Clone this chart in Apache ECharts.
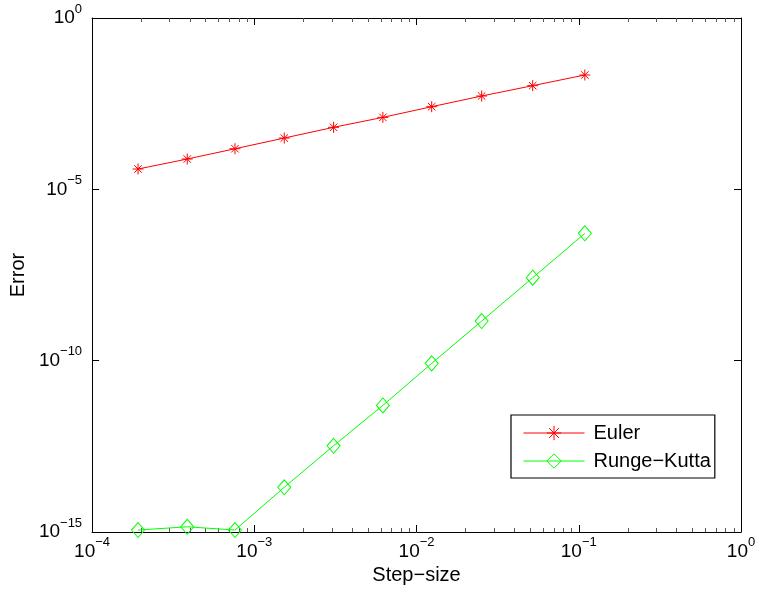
<!DOCTYPE html>
<html>
<head>
<meta charset="utf-8">
<script src="https://cdn.jsdelivr.net/npm/echarts@6/dist/echarts.min.js"></script>
<style>
html,body{margin:0;padding:0;background:#fff;}
#chart{width:760px;height:598px;}
</style>
</head>
<body>
<div id="chart"></div>
<script>
// ---- data ----
var stepSizes = [1.92e-4, 3.86e-4, 7.6e-4, 1.53e-3, 3.08e-3, 6.2e-3, 1.24e-2, 2.52e-2, 5.2e-2, 0.109];
var eulerError = [3.92e-5, 7.66e-5, 1.53e-4, 3.14e-4, 6.45e-4, 1.26e-3, 2.58e-3, 5.29e-3, 1.06e-2, 2.17e-2];
var rkError = [1.14e-15, 1.42e-15, 1.14e-15, 2.02e-14, 3.28e-13, 4.95e-12, 8.34e-11, 1.43e-9, 2.63e-8, 5.2e-7];
var seriesNames = ['Euler', 'Runge\u2212Kutta'];
var xMin = 1e-4, xMax = 1, yMin = 1e-15, yMax = 1;
var xMinorTicks = [2e-4,3e-4,4e-4,5e-4,6e-4,7e-4,8e-4,9e-4,
                   2e-3,3e-3,4e-3,5e-3,6e-3,7e-3,8e-3,9e-3,
                   2e-2,3e-2,4e-2,5e-2,6e-2,7e-2,8e-2,9e-2,
                   0.2,0.3,0.4,0.5,0.6,0.7,0.8,0.9];
var xName = 'Step\u2212size';
var yName = 'Error';

function pairs(xs, ys){ return xs.map(function(x,i){ return [x, ys[i]]; }); }

var FONT = 'Liberation Sans, Arial, Helvetica, sans-serif';
function expLabel(v){
  var e = Math.round(Math.log10(v));
  var s = e < 0 ? '\u2212' + Math.abs(e) : String(e);
  return '{b|10}{s|' + s + '}';
}
var richSup = {
  b: {fontSize: 19, fontFamily: FONT, color: '#000', lineHeight: 19, verticalAlign: 'bottom'},
  s: {fontSize: 13, fontFamily: FONT, color: '#000', lineHeight: 13, verticalAlign: 'bottom', padding: [0,0,12,0]}
};

var asterisk = 'path://M5 0 L5 10 M0 5 L10 5 M1.6 1.6 L8.4 8.4 M8.4 1.6 L1.6 8.4';

var chart = echarts.init(document.getElementById('chart'), null, {renderer: 'canvas'});
chart.setOption({
  backgroundColor: '#fff',
  animation: false,
  grid: {left: 90, right: 19, top: 18, bottom: 66, containLabel: false},
  legend: {
    left: 511, top: 415, orient: 'vertical',
    data: seriesNames,
    itemWidth: 61, itemHeight: 18, itemGap: 8,
    padding: [8, 4, 7, 12],
    backgroundColor: '#fff', borderColor: '#000', borderWidth: 1.2,
    lineStyle: {width: 1},
    itemStyle: {borderWidth: 1},
    textStyle: {fontSize: 20, fontFamily: FONT, color: '#000', lineHeight: 20, padding: [0,0,0,4]}
  },
  xAxis: [{
    type: 'log', logBase: 10, min: xMin, max: xMax, interval: 1,
    position: 'bottom',
    name: xName, nameLocation: 'middle', nameGap: 32,
    nameTextStyle: {fontSize: 20, fontFamily: FONT, color: '#000'},
    axisLine: {show: true, lineStyle: {color: '#000', width: 1}},
    axisTick: {show: true, inside: true, length: 7, lineStyle: {color: '#000'}},
    axisLabel: {show: true, formatter: expLabel, rich: richSup, margin: 10},
    splitLine: {show: false}
  }, {
    type: 'log', logBase: 10, min: xMin, max: xMax, interval: 1,
    position: 'top',
    axisLine: {show: true, lineStyle: {color: '#000', width: 1}},
    axisTick: {show: true, inside: true, length: 7, lineStyle: {color: '#000'}},
    axisLabel: {show: false},
    splitLine: {show: false}
  }],
  yAxis: [{
    type: 'log', logBase: 10, min: yMin, max: yMax, interval: 5,
    position: 'left',
    name: yName, nameLocation: 'middle', nameGap: 58,
    nameTextStyle: {fontSize: 20, fontFamily: FONT, color: '#000'},
    axisLine: {show: true, lineStyle: {color: '#000', width: 1}},
    axisTick: {show: true, inside: true, length: 7, lineStyle: {color: '#000'}},
    axisLabel: {show: true, formatter: expLabel, rich: richSup, margin: 10},
    splitLine: {show: false}
  }, {
    type: 'log', logBase: 10, min: yMin, max: yMax, interval: 5,
    position: 'right',
    axisLine: {show: true, lineStyle: {color: '#000', width: 1}},
    axisTick: {show: true, inside: true, length: 7, lineStyle: {color: '#000'}},
    axisLabel: {show: false},
    splitLine: {show: false}
  }],
  series: [{
    name: seriesNames[0], type: 'line', xAxisIndex: 0, yAxisIndex: 0,
    data: pairs(stepSizes, eulerError),
    symbol: asterisk, symbolSize: 11, symbolKeepAspect: true,
    clip: false,
    lineStyle: {color: '#ff0000', width: 1},
    itemStyle: {color: 'rgba(0,0,0,0)', borderColor: '#ff0000', borderWidth: 1},
    emphasis: {disabled: true}
  }, {
    name: seriesNames[1], type: 'line', xAxisIndex: 0, yAxisIndex: 0,
    data: pairs(stepSizes, rkError),
    symbol: 'diamond', symbolSize: [13, 15],
    clip: false,
    lineStyle: {color: '#00ff00', width: 1},
    itemStyle: {color: 'rgba(0,0,0,0)', borderColor: '#00ff00', borderWidth: 1},
    emphasis: {disabled: true}
  }, {
    name: 'minorTicks', type: 'custom', xAxisIndex: 0, yAxisIndex: 0,
    data: xMinorTicks.map(function(v){ return [v, 1]; }),
    silent: true, clip: false,
    renderItem: function(params, api){
      var cs = params.coordSys;
      var x = Math.round(api.coord([api.value(0), 1])[0]) + 0.5;
      var yb = cs.y + cs.height, yt = cs.y;
      var st = {stroke: '#555', lineWidth: 1};
      return {type: 'group', children: [
        {type: 'line', shape: {x1: x, y1: yb, x2: x, y2: yb - 4}, style: st},
        {type: 'line', shape: {x1: x, y1: yt, x2: x, y2: yt + 4}, style: st}
      ]};
    }
  }]
});
</script>
</body>
</html>
